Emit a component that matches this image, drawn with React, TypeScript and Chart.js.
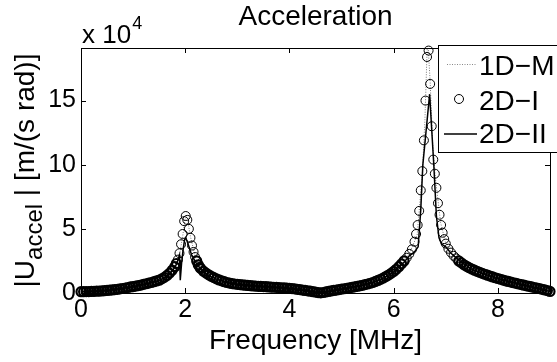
import React, { useEffect, useRef } from 'react';
import { Chart, registerables } from 'chart.js';

Chart.register(...registerables);

const FONT = '"Liberation Sans", Arial, Helvetica, sans-serif';

const TITLE = 'Acceleration';
const X_TITLE = 'Frequency [MHz]';
const Y_TITLE_MAIN = '|U';
const Y_TITLE_SUB = 'accel';
const Y_TITLE_REST = ' | [m/(s rad)]';
const Y_EXP_BASE = 'x 10';
const Y_EXP_POWER = '4';
const X_TICKS = [0, 2, 4, 6, 8];
const Y_TICKS = [0, 5, 10, 15];
const X_MAX = 9;
const Y_MAX = 19.1;
const LEGEND_LABELS = ['1D\u2212M', '2D\u2212I', '2D\u2212II'];

// 2D-I (circles), values in units of 10^4
const freq2DI = [
  0, 0.05, 0.1, 0.15, 0.2, 0.25, 0.3, 0.35, 0.4, 0.45,
  0.5, 0.55, 0.6, 0.65, 0.7, 0.75, 0.8, 0.85, 0.9, 0.95,
  1.0, 1.05, 1.1, 1.15, 1.2, 1.25, 1.3, 1.35, 1.4, 1.45,
  1.5, 1.55, 1.6, 1.65, 1.7, 1.75,
  1.80, 1.83, 1.86, 1.89, 1.92, 1.95, 1.98, 2.01, 2.04, 2.07,
  2.10, 2.13, 2.16, 2.19, 2.22, 2.25, 2.28,
  2.30, 2.35, 2.40, 2.45, 2.50, 2.55, 2.60, 2.65, 2.70, 2.75,
  2.80, 2.85, 2.90, 2.95, 3.00, 3.05, 3.10, 3.15, 3.20, 3.25,
  3.30, 3.35, 3.40, 3.45, 3.50, 3.55, 3.60, 3.65, 3.70, 3.75,
  3.80, 3.85, 3.90, 3.95, 4.00, 4.05, 4.10, 4.15, 4.20, 4.25,
  4.30, 4.35, 4.40, 4.45, 4.50, 4.55, 4.60, 4.65, 4.70, 4.75,
  4.80, 4.85, 4.90, 4.95, 5.00, 5.05, 5.10, 5.15, 5.20, 5.25,
  5.30, 5.35, 5.40, 5.45, 5.50, 5.55, 5.60, 5.65, 5.70, 5.75,
  5.80, 5.85, 5.90, 5.95, 6.00, 6.05, 6.10, 6.15, 6.20, 6.25,
  6.30, 6.35, 6.40,
  6.43, 6.46, 6.49, 6.52, 6.55, 6.58, 6.61, 6.64, 6.67, 6.70,
  6.73, 6.76, 6.79, 6.82, 6.85, 6.88, 6.91, 6.94, 6.97,
  7.00, 7.05, 7.10, 7.15, 7.20, 7.25, 7.30, 7.35, 7.40, 7.45,
  7.50, 7.55, 7.60, 7.65, 7.70, 7.75, 7.80, 7.85, 7.90, 7.95,
  8.00, 8.05, 8.10, 8.15, 8.20, 8.25, 8.30, 8.35, 8.40, 8.45,
  8.50, 8.55, 8.60, 8.65, 8.70, 8.75, 8.80, 8.85, 8.90, 8.95,
  9.00,
];
const accel2DI = [
  0.10, 0.10, 0.11, 0.11, 0.12, 0.13, 0.14, 0.15, 0.16, 0.18,
  0.20, 0.22, 0.24, 0.26, 0.29, 0.32, 0.35, 0.39, 0.43, 0.47,
  0.50, 0.54, 0.58, 0.62, 0.67, 0.72, 0.77, 0.82, 0.88, 0.94,
  1.00, 1.10, 1.22, 1.37, 1.55, 1.78,
  2.05, 2.30, 2.60, 3.10, 3.80, 4.60, 5.60, 6.00, 5.70, 5.00,
  4.30, 3.70, 3.20, 2.80, 2.50, 2.20, 2.00,
  1.90, 1.70, 1.55, 1.42, 1.30, 1.20, 1.10, 1.02, 0.95, 0.88,
  0.82, 0.77, 0.73, 0.70, 0.67, 0.65, 0.63, 0.61, 0.59, 0.57,
  0.55, 0.54, 0.52, 0.51, 0.50, 0.49, 0.47, 0.46, 0.45, 0.44,
  0.42, 0.41, 0.40, 0.38, 0.36, 0.34, 0.32, 0.29, 0.26, 0.23,
  0.20, 0.17, 0.14, 0.10, 0.07, 0.03, 0.01, 0.04, 0.08, 0.12,
  0.16, 0.20, 0.23, 0.27, 0.30, 0.33, 0.37, 0.40, 0.44, 0.48,
  0.52, 0.56, 0.60, 0.65, 0.70, 0.76, 0.82, 0.90, 0.98, 1.07,
  1.17, 1.28, 1.40, 1.53, 1.68, 1.85, 2.05, 2.27, 2.50, 2.75,
  3.05, 3.40, 4.00,
  4.60, 5.30, 6.40, 8.00, 9.50, 11.9, 15.0, 18.4, 18.9, 16.3,
  13.0, 10.4, 9.30, 8.20, 7.00, 6.10, 5.30, 4.70, 4.20,
  3.85, 3.45, 3.15, 2.90, 2.70, 2.50, 2.35, 2.20, 2.08, 1.97,
  1.87, 1.78, 1.69, 1.61, 1.53, 1.46, 1.39, 1.32, 1.25, 1.19,
  1.13, 1.07, 1.01, 0.95, 0.90, 0.85, 0.80, 0.75, 0.70, 0.65,
  0.61, 0.56, 0.52, 0.47, 0.43, 0.38, 0.34, 0.29, 0.24, 0.19,
  0.12,
];

// 2D-II (solid line)
const freq2DII = [
  0, 0.5, 1.0, 1.2, 1.4, 1.5, 1.6, 1.7, 1.75, 1.8,
  1.84, 1.87, 1.89, 1.905, 1.93, 1.96, 1.99, 2.01, 2.04, 2.08,
  2.12, 2.16, 2.2, 2.25, 2.3, 2.4, 2.5, 2.6, 2.8, 3.0,
  3.5, 4.0, 4.3, 4.6, 4.8, 5.0, 5.4, 5.6, 5.8, 6.0,
  6.2, 6.3, 6.4, 6.47, 6.52, 6.56, 6.69, 6.77, 6.82, 6.87,
  6.92, 7.0, 7.1, 7.2, 7.3, 7.5, 7.75, 8.0, 8.5, 9.0,
];
const accel2DII = [
  0.10, 0.20, 0.48, 0.64, 0.86, 0.98, 1.18, 1.50, 1.72, 2.00,
  2.30, 2.70, 2.95, 1.00, 2.30, 3.40, 4.20, 4.30, 4.00, 3.50,
  3.00, 2.70, 2.40, 2.10, 1.85, 1.50, 1.27, 1.08, 0.82, 0.67,
  0.50, 0.36, 0.20, 0.00, 0.16, 0.30, 0.60, 0.82, 1.15, 1.65,
  2.40, 2.90, 3.20, 3.60, 6.50, 10.0, 15.5, 10.0, 6.00, 4.30,
  3.80, 3.60, 3.10, 2.75, 2.40, 1.85, 1.45, 1.12, 0.60, 0.12,
];

// 1D-M (dotted line)
const freq1DM = [
  0, 0.5, 1.0, 1.5, 1.7, 1.8, 1.9, 1.95, 2.0, 2.05,
  2.1, 2.2, 2.3, 2.5, 3.0, 3.5, 4.0, 4.3, 4.6, 4.8,
  5.0, 5.5, 6.0, 6.3, 6.45, 6.55, 6.6, 6.65, 6.7, 6.75,
  6.8, 6.9, 7.0, 7.2, 7.5, 8.0, 8.5, 9.0,
];
const accel1DM = [
  0.10, 0.20, 0.50, 1.00, 1.55, 2.05, 3.20, 4.40, 5.80, 5.60,
  4.40, 2.70, 1.90, 1.30, 0.67, 0.50, 0.36, 0.20, 0.01, 0.16,
  0.30, 0.70, 1.68, 3.05, 4.50, 9.30, 13.5, 20.0, 16.5, 11.5,
  9.00, 5.50, 3.85, 2.70, 1.87, 1.13, 0.61, 0.12,
];

const toPoints = (xs: number[], ys: number[]) => xs.map((x, i) => ({ x, y: ys[i] }));

const decorPlugin = {
  id: 'matlabDecor',
  afterDraw(chart: any) {
    const { ctx, chartArea } = chart;
    const { left, right, top, bottom } = chartArea;
    const xs = chart.scales.x;
    const ys = chart.scales.y;
    ctx.save();
    // Axes box
    ctx.strokeStyle = '#000';
    ctx.lineWidth = 1;
    ctx.beginPath();
    ctx.rect(Math.round(left) + 0.5, Math.round(top) + 0.5, Math.round(right - left), Math.round(bottom - top));
    ctx.stroke();
    // inward ticks
    const tl = 5;
    ctx.beginPath();
    X_TICKS.forEach((v) => {
      const px = Math.round(xs.getPixelForValue(v)) + 0.5;
      ctx.moveTo(px, bottom);
      ctx.lineTo(px, bottom - tl);
      ctx.moveTo(px, top);
      ctx.lineTo(px, top + tl);
    });
    Y_TICKS.forEach((v) => {
      const py = Math.round(ys.getPixelForValue(v)) + 0.5;
      ctx.moveTo(left, py);
      ctx.lineTo(left + tl, py);
      ctx.moveTo(right, py);
      ctx.lineTo(right - tl, py);
    });
    ctx.stroke();

    ctx.fillStyle = '#000';
    // Title
    ctx.font = `28px ${FONT}`;
    ctx.textAlign = 'center';
    ctx.textBaseline = 'alphabetic';
    ctx.fillText(TITLE, (left + right) / 2, 25);
    // X title
    ctx.fillText(X_TITLE, (left + right) / 2, 349);

    // Exponent label
    ctx.textAlign = 'left';
    ctx.font = `26px ${FONT}`;
    ctx.fillText(Y_EXP_BASE, 82, 43);
    const wBase = ctx.measureText(Y_EXP_BASE).width;
    ctx.font = `18px ${FONT}`;
    ctx.fillText(Y_EXP_POWER, 82 + wBase + 1, 29);

    // Y title rotated with subscript
    ctx.save();
    const cy = (top + bottom) / 2;
    ctx.translate(34, cy);
    ctx.rotate(-Math.PI / 2);
    ctx.font = `28px ${FONT}`;
    const w1 = ctx.measureText(Y_TITLE_MAIN).width;
    const w3 = ctx.measureText(Y_TITLE_REST).width;
    ctx.font = `24px ${FONT}`;
    const w2 = ctx.measureText(Y_TITLE_SUB).width;
    let x0 = -(w1 + w2 + w3) / 2;
    ctx.textAlign = 'left';
    ctx.font = `28px ${FONT}`;
    ctx.fillText(Y_TITLE_MAIN, x0, 0);
    x0 += w1;
    ctx.font = `24px ${FONT}`;
    ctx.fillText(Y_TITLE_SUB, x0, 8);
    x0 += w2;
    ctx.font = `28px ${FONT}`;
    ctx.fillText(Y_TITLE_REST, x0, 0);
    ctx.restore();

    // Legend
    const lx = 438.5;
    const ly = 45.5;
    ctx.fillStyle = '#fff';
    ctx.fillRect(lx, ly, 160, 107);
    ctx.strokeStyle = '#000';
    ctx.lineWidth = 1;
    ctx.strokeRect(lx, ly, 160, 107);
    ctx.fillStyle = '#000';
    ctx.font = `28px ${FONT}`;
    ctx.textAlign = 'left';
    const baselines = [75, 110, 143];
    const centers = [64, 99, 134];
    LEGEND_LABELS.forEach((lab, i) => {
      ctx.fillText(lab, 479, baselines[i]);
    });
    // sample 1: dotted gray
    ctx.save();
    ctx.strokeStyle = '#888';
    ctx.setLineDash([1, 1.5]);
    ctx.beginPath();
    ctx.moveTo(447, centers[0] + 0.5);
    ctx.lineTo(477, centers[0] + 0.5);
    ctx.stroke();
    ctx.restore();
    // sample 2: circle
    ctx.beginPath();
    ctx.arc(459, centers[1], 4.5, 0, Math.PI * 2);
    ctx.stroke();
    // sample 3: solid line
    ctx.beginPath();
    ctx.lineWidth = 1.5;
    ctx.moveTo(444, centers[2]);
    ctx.lineTo(477, centers[2]);
    ctx.stroke();
    ctx.restore();
  },
};

export default function App() {
  const canvasRef = useRef<HTMLCanvasElement | null>(null);

  useEffect(() => {
    document.body.style.margin = '0';
    const canvas = canvasRef.current;
    if (!canvas) return;
    const chart = new Chart(canvas, {
      type: 'scatter',
      data: {
        datasets: [
          {
            label: LEGEND_LABELS[2],
            data: toPoints(freq2DII, accel2DII),
            showLine: true,
            borderColor: '#000',
            borderWidth: 1.5,
            pointRadius: 0,
            tension: 0,
            order: 1,
          },
          {
            label: LEGEND_LABELS[1],
            data: toPoints(freq2DI, accel2DI),
            showLine: false,
            pointRadius: 4.5,
            pointStyle: 'circle',
            pointBorderColor: '#000',
            pointBackgroundColor: 'rgba(0,0,0,0)',
            pointBorderWidth: (c: any) => (c.raw && c.raw.y < 2.6 ? 2.2 : 1),
            order: 2,
            clip: false,
          },
          {
            label: LEGEND_LABELS[0],
            data: toPoints(freq1DM, accel1DM),
            showLine: true,
            borderColor: '#777',
            borderWidth: 1,
            borderDash: [1, 1.5],
            pointRadius: 0,
            tension: 0,
            order: 3,
          },
        ] as any,
      },
      options: {
        animation: false,
        responsive: false,
        devicePixelRatio: 1,
        layout: { padding: { top: 48, right: 7, left: 0, bottom: 0 } },
        plugins: {
          legend: { display: false },
          tooltip: { enabled: false },
          title: { display: false },
        },
        scales: {
          x: {
            type: 'linear',
            min: 0,
            max: X_MAX,
            grid: { display: false, drawTicks: false },
            border: { display: false },
            ticks: {
              stepSize: 2,
              padding: 2,
              color: '#000',
              font: { family: FONT, size: 25 },
              maxRotation: 0,
            },
            afterBuildTicks: (scale: any) => {
              scale.ticks = X_TICKS.map((v) => ({ value: v }));
            },
            afterFit: (scale: any) => {
              scale.height = 69;
            },
          },
          y: {
            type: 'linear',
            min: 0,
            max: Y_MAX,
            grid: { display: false, drawTicks: false },
            border: { display: false },
            ticks: {
              stepSize: 5,
              padding: 5,
              color: '#000',
              font: { family: FONT, size: 25 },
            },
            afterBuildTicks: (scale: any) => {
              scale.ticks = Y_TICKS.map((v) => ({ value: v }));
            },
            afterFit: (scale: any) => {
              scale.width = 81;
            },
          },
        },
      } as any,
      plugins: [decorPlugin],
    });
    return () => chart.destroy();
  }, []);

  return (
    <div style={{ position: 'fixed', left: 0, top: 0, width: 557, height: 362, background: '#fff' }}>
      <canvas ref={canvasRef} width={557} height={362} style={{ width: 557, height: 362 }} />
    </div>
  );
}
